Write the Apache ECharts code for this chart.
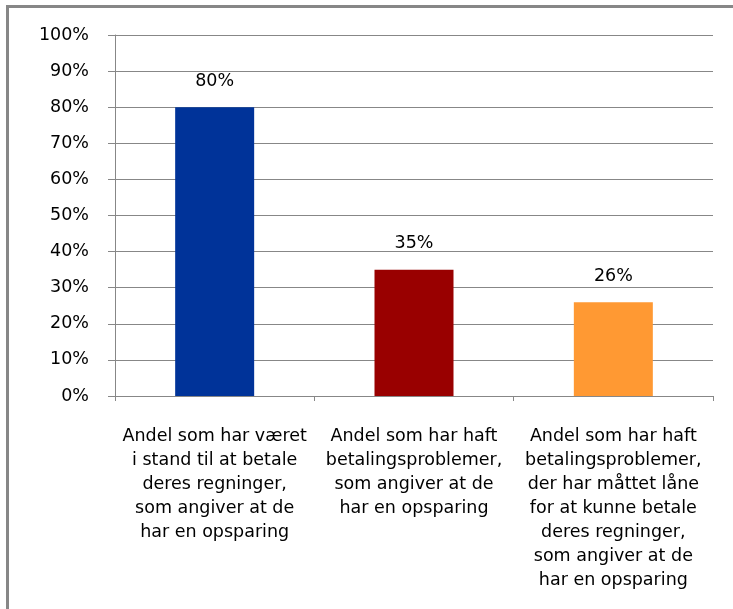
<!DOCTYPE html>
<html>
<head>
<meta charset="utf-8">
<style>
  html, body { margin: 0; padding: 0; background: #ffffff; overflow: hidden; }
  #chart { width: 733px; height: 609px; }
</style>
<script src="https://cdn.jsdelivr.net/npm/echarts@6/dist/echarts.min.js"></script>
</head>
<body>
<div id="chart"></div>
<script>
// Category labels (pre-wrapped the way they are printed under each bar)
const categories = [
  'Andel som har været\ni stand til at betale\nderes regninger,\nsom angiver at de\nhar en opsparing',
  'Andel som har haft\nbetalingsproblemer,\nsom angiver at de\nhar en opsparing',
  'Andel som har haft\nbetalingsproblemer,\nder har måttet låne\nfor at kunne betale\nderes regninger,\nsom angiver at de\nhar en opsparing'
];
// Share with savings, in percent
const values = [80, 35, 26];
const barColors = ['#003399', '#990000', '#FF9933'];

const FONT = 'DejaVu Sans';
const GRAY = '#878787';

const chart = echarts.init(document.getElementById('chart'), null, { renderer: 'canvas' });

chart.setOption({
  animation: false,
  backgroundColor: '#ffffff',
  // chart-area frame: only its top and left edges fall inside the page
  graphic: [
    {
      type: 'line',
      shape: { x1: 6, y1: 6.5, x2: 733, y2: 6.5 },
      style: { stroke: GRAY, lineWidth: 3 },
      silent: true
    },
    {
      type: 'line',
      shape: { x1: 7.5, y1: 5, x2: 7.5, y2: 609 },
      style: { stroke: GRAY, lineWidth: 3 },
      silent: true
    }
  ],
  grid: { left: 115, right: 20, top: 35, bottom: 213, containLabel: false },
  xAxis: {
    type: 'category',
    data: categories,
    axisLine: { show: true, lineStyle: { color: GRAY, width: 1 } },
    axisTick: { show: true, alignWithLabel: false, length: 5, lineStyle: { color: GRAY } },
    axisLabel: {
      interval: 0,
      margin: 28,
      color: '#000',
      fontFamily: FONT,
      fontSize: 17.5,
      lineHeight: 24,
      align: 'center'
    },
    splitLine: { show: false }
  },
  yAxis: {
    type: 'value',
    min: 0,
    max: 100,
    interval: 10,
    axisLine: { show: true, lineStyle: { color: GRAY, width: 1 } },
    axisTick: { show: true, inside: false, length: 7, lineStyle: { color: GRAY } },
    axisLabel: {
      formatter: '{value}%',
      margin: 26,
      color: '#000',
      fontFamily: FONT,
      fontSize: 17.5
    },
    splitLine: { show: true, lineStyle: { color: GRAY, width: 1 } }
  },
  series: [{
    type: 'bar',
    barWidth: 79,
    data: values.map((v, i) => ({ value: v, itemStyle: { color: barColors[i] } })),
    label: {
      show: true,
      position: 'top',
      distance: 17,
      formatter: '{c}%',
      color: '#000',
      fontFamily: FONT,
      fontSize: 17.5
    }
  }]
});
</script>
</body>
</html>
